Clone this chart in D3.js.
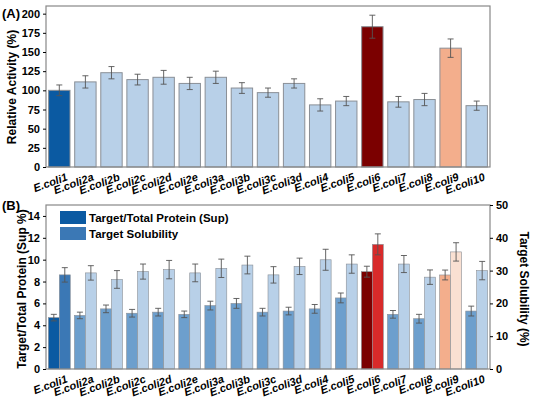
<!DOCTYPE html>
<html><head><meta charset="utf-8">
<script src="https://cdn.jsdelivr.net/npm/d3@7"></script>
<style>body{margin:0;background:#fff;font-family:"Liberation Sans",Arial,sans-serif}</style>
</head><body><svg id="chart" width="535" height="404"></svg>
<script>
var strains = ["E.coli1","E.coli2a","E.coli2b","E.coli2c","E.coli2d","E.coli2e","E.coli3a","E.coli3b","E.coli3c","E.coli3d","E.coli4","E.coli5","E.coli6","E.coli7","E.coli8","E.coli9","E.coli10"];
var activity = [100,111,123,114,117,109,117,103,97,109,81,86,183,85,88,155,80];
var activityErr = [7,8,8,7,9,8,8,7,6,6,8,6,15,7,8,12,6];
var protein = [4.7,4.9,5.5,5.1,5.2,5.0,5.8,6.0,5.2,5.3,5.5,6.5,8.9,5.0,4.6,8.6,5.3];
var proteinErr = [0.3,0.3,0.35,0.35,0.35,0.3,0.4,0.45,0.35,0.35,0.4,0.45,0.5,0.35,0.4,0.45,0.45];
var solubility = [28.7,29.3,27.3,29.7,30.3,29.3,30.7,31.7,28.7,31.3,33.3,32,38,32,28,35.7,30];
var solubilityErr = [2.2,2.2,2.7,2.3,2.8,2.7,2.8,2.7,2.5,2.5,3.2,2.8,3.2,2.6,2.2,2.8,2.8];
var leftTicksB = [0,2,4,6,8,10,12,14];
var rightTicksB = [0,10,20,30,40,50];

var colA = function(i){ return i==0?"#0b5aa2":i==12?"#7b0000":i==15?"#f3ae8c":"#b8d0e8"; };
var colP = function(i){ return i==0?"#0b5aa2":i==12?"#7b0000":i==15?"#f3ae8c":"#6d9fcd"; };
var colS = function(i){ return i==0?"#3b78b5":i==12?"#d82a2a":i==15?"#f9e0d2":"#b8d0e8"; };

var svg = d3.select("#chart");
var L = 46, R = 490;
var x = d3.scaleBand().domain(strains).range([L, R]).paddingInner(0.18).paddingOuter(0.1);

function frame(top, bottom){
  svg.append("rect").attr("x",L).attr("y",top).attr("width",R-L).attr("height",bottom-top)
    .attr("fill","none").attr("stroke","#888").attr("stroke-width",1.2);
}
function xLabels(y0){
  svg.append("g").selectAll("text").data(strains).enter().append("text")
    .attr("transform", function(d){ return "translate("+(x(d)+x.bandwidth()/2+9)+","+(y0+13)+") rotate(-20)"; })
    .attr("text-anchor","end").attr("font-size",11).attr("font-weight","bold").attr("font-style","italic")
    .text(function(d){ return d; });
}
function errBars(data, err, xs, y, w){
  var g = svg.append("g").attr("stroke","#555").attr("stroke-width",0.9);
  data.forEach(function(v,i){
    var cx = xs(i);
    g.append("line").attr("x1",cx).attr("x2",cx).attr("y1",y(v-err[i])).attr("y2",y(v+err[i]));
    g.append("line").attr("x1",cx-w).attr("x2",cx+w).attr("y1",y(v-err[i])).attr("y2",y(v-err[i]));
    g.append("line").attr("x1",cx-w).attr("x2",cx+w).attr("y1",y(v+err[i])).attr("y2",y(v+err[i]));
  });
}

// Panel A
var yA = d3.scaleLinear().domain([0,210]).range([167,6]);
svg.append("g").selectAll("rect").data(activity).enter().append("rect")
  .attr("x",function(d,i){ return x(strains[i]); }).attr("width",x.bandwidth())
  .attr("y",function(d){ return yA(d); }).attr("height",function(d){ return yA(0)-yA(d); })
  .attr("fill",function(d,i){ return colA(i); }).attr("stroke","#8a8f96").attr("stroke-width",1);
errBars(activity, activityErr, function(i){ return x(strains[i])+x.bandwidth()/2; }, yA, 3);
frame(6,167);
svg.append("g").attr("transform","translate("+L+",0)")
  .call(d3.axisLeft(yA).tickValues([0,25,50,75,100,125,150,175,200]).tickSize(3))
  .call(function(g){ g.select(".domain").remove(); g.selectAll("text").attr("font-size",11).attr("font-weight","bold"); });
xLabels(167);
svg.append("text").attr("transform","translate(16,87) rotate(-90)").attr("text-anchor","middle")
  .attr("font-size",12).attr("font-weight","bold").text("Relative Activity (%)");
svg.append("text").attr("x",2).attr("y",18).attr("font-size",13).attr("font-weight","bold").text("(A)");

// Panel B
var yL = d3.scaleLinear().domain([0,15]).range([369,205]);
var yR = d3.scaleLinear().domain([0,50]).range([369,205]);
var bw = x.step()*0.42;
var gB = svg.append("g");
protein.forEach(function(v,i){
  var c = x(strains[i])+x.bandwidth()/2;
  gB.append("rect").attr("x",c-bw).attr("width",bw).attr("y",yL(v)).attr("height",yL(0)-yL(v))
    .attr("fill",colP(i)).attr("stroke","#8a8f96").attr("stroke-width",0.6);
  gB.append("rect").attr("x",c).attr("width",bw).attr("y",yR(solubility[i])).attr("height",yR(0)-yR(solubility[i]))
    .attr("fill",colS(i)).attr("stroke","#8a8f96").attr("stroke-width",0.6);
});
errBars(protein, proteinErr, function(i){ return x(strains[i])+x.bandwidth()/2-bw/2; }, yL, 3);
errBars(solubility, solubilityErr, function(i){ return x(strains[i])+x.bandwidth()/2+bw/2; }, yR, 3);
frame(205,369);
svg.append("g").attr("transform","translate("+L+",0)")
  .call(d3.axisLeft(yL).tickValues(leftTicksB).tickSize(3))
  .call(function(g){ g.select(".domain").remove(); g.selectAll("text").attr("font-size",11).attr("font-weight","bold"); });
svg.append("g").attr("transform","translate("+R+",0)")
  .call(d3.axisRight(yR).tickValues(rightTicksB).tickSize(3))
  .call(function(g){ g.select(".domain").remove(); g.selectAll("text").attr("font-size",11).attr("font-weight","bold"); });
xLabels(369);
svg.append("text").attr("transform","translate(26,289) rotate(-90)").attr("text-anchor","middle")
  .attr("font-size",12).attr("font-weight","bold").text("Target/Total Protein (Sup %)");
svg.append("text").attr("transform","translate(520,289) rotate(90)").attr("text-anchor","middle")
  .attr("font-size",12).attr("font-weight","bold").text("Target Solubility (%)");
svg.append("text").attr("x",2).attr("y",210).attr("font-size",13).attr("font-weight","bold").text("(B)");
var legend = [["Target/Total Protein (Sup)","#0b5aa2"],["Target Solubility","#3b78b5"]];
legend.forEach(function(d,i){
  svg.append("rect").attr("x",60).attr("y",211+i*16).attr("width",26).attr("height",13).attr("fill",d[1]);
  svg.append("text").attr("x",89).attr("y",222+i*16).attr("font-size",11.5).attr("font-weight","bold").text(d[0]);
});
</script></body></html>
